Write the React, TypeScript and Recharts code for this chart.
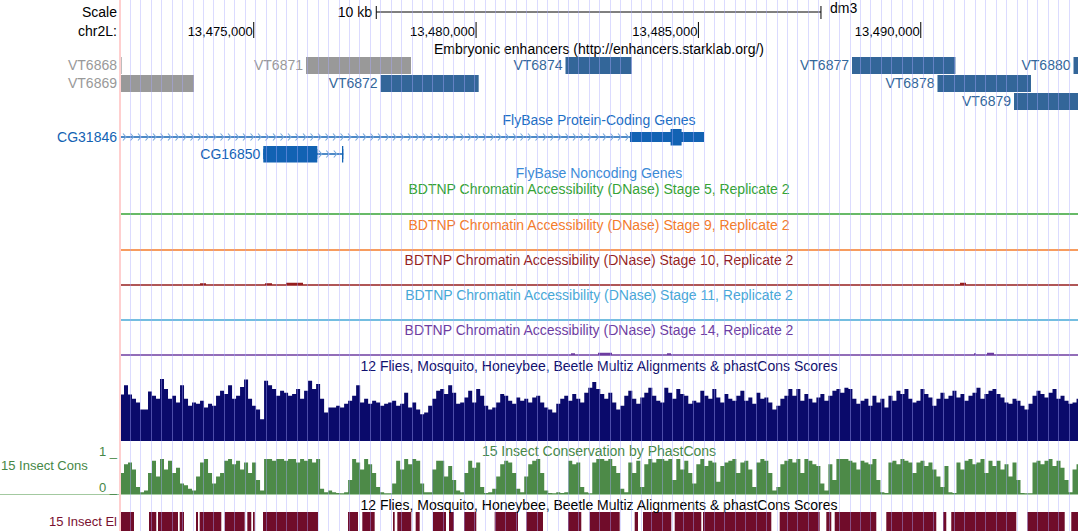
import React from "react";
import { ComposedChart, AreaChart, Area, XAxis, YAxis, ReferenceArea, ReferenceLine } from "recharts";

// visible window on chr2L (dm3)
const START = 13471993;
const END = 13493536;
const FONT = "'Liberation Sans', Arial, Helvetica, sans-serif";
const M = { top: 0, right: 0, bottom: 0, left: 120 };

// ruler
const RULER_TICKS = [13475000, 13480000, 13485000, 13490000];
const SCALE_BAR = [13477756, 13487756];
const GUIDE_BP = 234.55;

// Embryonic enhancers
const ENH_NAMES = ["VT6868", "VT6869", "VT6871", "VT6872", "VT6874", "VT6877", "VT6878", "VT6879", "VT6880"];
const ENH_START = [13470500, 13470900, 13476176, 13477855, 13482011, 13488454, 13490376, 13492097, 13493435];
const ENH_END = [13472030, 13473657, 13478537, 13480059, 13483500, 13490779, 13492479, 13494200, 13495000];
const ENH_ROW = [0, 1, 0, 1, 0, 0, 1, 2, 0];
const ENH_GREY = [true, true, true, false, false, false, false, false, false];

// FlyBase protein-coding genes
const GENE_NAMES = ["CG31846", "CG16850"];
const GENE_START = [13466800, 13475215];
const GENE_END = [13485126, 13477014];
const GENE_EXONS = [
  [[13483461, 13485126]],
  [[13475215, 13476430], [13476985, 13477014]],
];
const GENE_CDS = [[13484374, 13484622], [13475215, 13477014]];

// BDTNP DNase tracks (almost flat)
const DNASE_TITLES = [
  "BDTNP Chromatin Accessibility (DNase) Stage 5, Replicate 2",
  "BDTNP Chromatin Accessibility (DNase) Stage 9, Replicate 2",
  "BDTNP Chromatin Accessibility (DNase) Stage 10, Replicate 2",
  "BDTNP Chromatin Accessibility (DNase) Stage 11, Replicate 2",
  "BDTNP Chromatin Accessibility (DNase) Stage 14, Replicate 2",
];
const DNASE_COLORS = ["#35a335", "#f47b2a", "#961e1e", "#46a8d6", "#6e3ca0"];
const DNASE_BUMPS: number[][][] = [
  [],
  [],
  [[13473792, 13473927, 1], [13475254, 13475411, 1], [13475726, 13476108, 1.5], [13490882, 13491017, 1.5]],
  [],
  [[13482135, 13482225, 1], [13482742, 13483057, 1.5], [13484293, 13484383, 1], [13491197, 13491242, 1], [13491489, 13491647, 1.5]],
];

// Multiz / phastCons, 90 bp bins
const BIN_BP = 90;
const MULTIZ = [
  0.75, 0.9, 0.75, 0.68, 0.62, 0.51, 0.51, 0.8, 0.73, 0.68,
  1.0, 0.84, 0.68, 0.73, 0.62, 0.9, 0.68, 0.57, 0.62, 0.6,
  0.65, 0.54, 0.6, 0.57, 0.73, 0.81, 0.76, 0.9, 0.68, 0.73,
  0.87, 0.99, 0.68, 0.57, 0.51, 0.35, 0.97, 0.9, 0.84, 0.73,
  0.81, 0.78, 0.73, 0.76, 0.84, 0.68, 0.81, 0.97, 0.84, 0.92,
  0.68, 0.46, 0.54, 0.54, 0.57, 0.54, 0.6, 0.65, 0.73, 0.9,
  0.62, 0.68, 0.6, 0.65, 0.62, 0.57, 0.6, 0.62, 0.65, 0.57,
  0.6, 0.78, 0.54, 0.62, 0.51, 0.43, 0.46, 0.57, 0.68, 0.81,
  0.84, 0.76, 0.9, 0.78, 0.6, 0.62, 0.7, 0.81, 0.62, 0.84,
  0.73, 0.57, 0.51, 0.54, 0.62, 0.76, 0.73, 0.65, 0.6, 0.7,
  0.65, 0.68, 0.62, 0.7, 0.73, 0.62, 0.54, 0.51, 0.46, 0.6,
  0.68, 0.73, 0.65, 0.76, 0.68, 0.62, 0.78, 0.86, 0.95, 0.84,
  0.76, 0.68, 0.78, 0.62, 0.51, 0.57, 0.73, 0.81, 0.68, 0.6,
  0.7, 0.78, 0.86, 0.73, 0.65, 0.62, 0.86, 0.78, 0.68, 0.84,
  0.76, 0.73, 0.6, 0.65, 0.62, 0.81, 0.73, 0.68, 0.84, 0.7,
  0.62, 0.76, 0.68, 0.65, 0.73, 0.81, 0.65, 0.7, 0.6, 0.78,
  0.68, 0.7, 0.62, 0.51, 0.57, 0.68, 0.73, 0.84, 0.73, 0.84,
  0.65, 0.76, 0.68, 0.62, 0.7, 0.76, 0.65, 0.73, 0.81, 0.84,
  0.78, 0.86, 0.84, 0.68, 0.6, 0.65, 0.68, 0.57, 0.73, 0.62,
  0.68, 0.54, 0.73, 0.65, 0.81, 0.76, 0.84, 0.68, 0.62, 0.65,
  0.84, 0.76, 0.7, 0.57, 0.68, 0.78, 0.68, 0.73, 0.81, 0.7,
  0.76, 0.65, 0.73, 0.78, 0.86, 0.68, 0.76, 0.81, 0.84, 0.76,
  0.7, 0.62, 0.6, 0.68, 0.65, 0.57, 0.51, 0.6, 0.73, 0.81,
  0.76, 0.7, 0.78, 0.84, 0.68, 0.73, 0.65, 0.6, 0.62, 0.68,
];
const PHASTCONS = [
  0.6, 0.85, 0.9, 0.7, 0.2, 0.05, 0.1, 0.6, 0.95, 0.5,
  1, 0.7, 0.95, 0.6, 0.75, 0.3, 0.25, 0.15, 0.1, 0.5,
  0.9, 1, 0.6, 0.3, 0.5, 0.6, 0.95, 1, 0.85, 0.95,
  0.7, 0.9, 0.6, 0.9, 0.4, 0.1, 1, 1, 0.95, 1,
  1, 0.95, 1, 1, 0.9, 1, 0.95, 1, 0.9, 1,
  0.15, 0.05, 0.1, 0.05, 0.03, 0.02, 0.05, 0.4, 1, 0.9,
  0.7, 1, 0.85, 0.6, 0.2, 0.05, 0.02, 0.02, 0.3, 0.95,
  0.7, 1, 0.85, 1, 0.95, 0.3, 0.05, 0.05, 0.7, 0.95,
  0.95, 0.5, 0.8, 0.4, 0.1, 0.05, 0.6, 0.95, 0.75, 0.9,
  0.2, 0.03, 0.05, 0.15, 0.5, 0.85, 0.95, 0.9, 0.6, 0.15,
  0.05, 0.5, 0.85, 0.95, 1, 0.6, 0.1, 0.03, 0.02, 0.05,
  0.03, 0.05, 0.95, 0.85, 0.9, 0.2, 0.05, 0.02, 0.9, 1,
  1, 0.95, 1, 0.8, 0.6, 0.15, 0.05, 0.9, 0.6, 0.95,
  0.2, 0.85, 1, 0.9, 1, 1, 0.95, 1, 0.4, 1,
  0.7, 0.95, 0.6, 0.3, 0.85, 1, 0.8, 0.95, 0.9, 0.35,
  0.8, 0.9, 0.95, 1, 0.6, 0.9, 0.95, 0.7, 0.2, 0.9,
  1, 0.95, 0.6, 0.1, 0.2, 0.85, 0.95, 1, 0.9, 1,
  0.6, 1, 0.95, 0.85, 0.8, 0.3, 0.1, 0.85, 0.4, 1,
  1, 1, 0.95, 0.9, 0.7, 0.95, 0.9, 0.85, 1, 0.4,
  0.05, 0.03, 0.9, 0.95, 0.85, 1, 0.95, 0.9, 0.6, 0.9,
  0.95, 0.8, 0.9, 0.7, 0.5, 0.2, 0.8, 0.05, 0.03, 0.9,
  0.7, 0.95, 1, 0.85, 0.9, 1, 0.6, 0.95, 0.8, 0.95,
  0.7, 0.85, 0.5, 0.9, 0.4, 0.03, 0.02, 0.02, 0.9, 0.95,
  0.85, 0.95, 1, 0.8, 0.95, 0.75, 0.4, 0.05, 0.7, 0.85,
];

// 15 Insect conserved elements
const EL_START = [
  13471990, 13472645, 13472848, 13473335, 13473702, 13473785, 13474347, 13474856, 13474984, 13475209,
  13477120, 13477442, 13478132, 13478229, 13478642, 13479031, 13479391, 13479729, 13480419, 13481129,
  13482067, 13482555, 13483567, 13483754, 13484467, 13485103, 13486828, 13487876, 13488065, 13489225,
  13490500, 13490686, 13492396, 13493385,
];
const EL_END = [
  13472308, 13472809, 13473297, 13473432, 13473747, 13474271, 13474797, 13474945, 13475022, 13476445,
  13477345, 13477720, 13478170, 13478544, 13478732, 13479324, 13479504, 13480005, 13480943, 13481505,
  13482366, 13483230, 13483641, 13484390, 13485065, 13486639, 13487727, 13487988, 13489000, 13490349,
  13490574, 13492148, 13493237, 13493600,
];

const ENH_ROW_TOP = [57, 75, 93];
const GENE_ROW_Y = [137, 154];
const DNASE_BASE = [214, 250, 285, 320, 355];
const GENE_COLOR = "#1262b3";

const clampX = (v: number) => Math.min(Math.max(v, START), END);
const fmt = (v: number) => String(v).replace(/\B(?=(\d{3})+(?!\d))/g, ",");

const RulerTickShape = (props: any) => {
  const { x1, y1, y2, label } = props;
  return (
    <g>
      <line x1={x1} x2={x1} y1={y1} y2={y2} stroke="#000" strokeWidth={1} />
      <text x={x1 - 1} y={35.5} textAnchor="end" fontSize={13} fill="#000">
        {label}
      </text>
    </g>
  );
};

const IntronShape = (props: any) => {
  const { x, y, width, height } = props;
  const cy = y + height / 2;
  const marks = [];
  for (let cx = x + 6; cx < x + width - 2; cx += 7.5) {
    marks.push(
      <path key={cx} d={`M${cx - 3},${cy - 3.5}L${cx},${cy}L${cx - 3},${cy + 3.5}`} fill="none" stroke="#78a8de" strokeWidth={1.1} />
    );
  }
  return (
    <g>
      <line x1={x} x2={x + width} y1={cy} y2={cy} stroke={GENE_COLOR} strokeWidth={1.5} />
      {marks}
    </g>
  );
};

function TopTracks() {
  return (
    <ComposedChart width={1078} height={360} margin={M} data={RULER_TICKS.map((pos) => ({ pos }))}>
      <XAxis dataKey="pos" type="number" domain={[START, END]} allowDataOverflow hide />
      <YAxis type="number" domain={[0, 360]} reversed hide allowDataOverflow />

      {RULER_TICKS.map((t) => (
        <ReferenceLine
          key={t}
          segment={[{ x: t, y: 22 }, { x: t, y: 38 }]}
          stroke="#000"
          shape={(p: any) => <RulerTickShape {...p} label={fmt(t)} />}
        />
      ))}
      <ReferenceLine segment={[{ x: SCALE_BAR[0], y: 12 }, { x: SCALE_BAR[1], y: 12 }]} stroke="#000" />
      <ReferenceLine segment={[{ x: SCALE_BAR[0], y: 6 }, { x: SCALE_BAR[0], y: 19 }]} stroke="#000" />
      <ReferenceLine segment={[{ x: SCALE_BAR[1], y: 6 }, { x: SCALE_BAR[1], y: 19 }]} stroke="#000" />

      {ENH_NAMES.map((name, i) => {
        const c = ENH_GREY[i] ? "#999999" : "#336699";
        const top = ENH_ROW_TOP[ENH_ROW[i]];
        return (
          <ReferenceArea
            key={name}
            x1={clampX(ENH_START[i])}
            x2={clampX(ENH_END[i])}
            y1={top}
            y2={top + 17}
            fill={c}
            fillOpacity={1}
            stroke="none"
            label={{ value: name, position: "left", offset: 3, fill: c, fontSize: 14 }}
          />
        );
      })}

      {GENE_NAMES.map((name, g) => (
        <ReferenceArea
          key={name}
          x1={clampX(GENE_START[g])}
          x2={clampX(GENE_END[g])}
          y1={GENE_ROW_Y[g] - 1}
          y2={GENE_ROW_Y[g] + 1}
          shape={IntronShape}
          label={{ value: name, position: "left", offset: 3, fill: GENE_COLOR, fontSize: 14 }}
        />
      ))}
      {GENE_NAMES.map((name, g) =>
        GENE_EXONS[g].map(([s, e], k) => (
          <ReferenceArea
            key={`${name}-utr-${k}`}
            x1={s}
            x2={e}
            y1={GENE_ROW_Y[g] - 5}
            y2={GENE_ROW_Y[g] + 5}
            fill={GENE_COLOR}
            fillOpacity={1}
            stroke="none"
          />
        ))
      )}
      {GENE_NAMES.map((name, g) =>
        GENE_EXONS[g].map(([s, e], k) => {
          const cs = Math.max(s, GENE_CDS[g][0]);
          const ce = Math.min(e, GENE_CDS[g][1]);
          if (ce <= cs) return null;
          return (
            <ReferenceArea
              key={`${name}-cds-${k}`}
              x1={cs}
              x2={ce}
              y1={GENE_ROW_Y[g] - 8}
              y2={GENE_ROW_Y[g] + 8.5}
              fill={GENE_COLOR}
              fillOpacity={1}
              stroke="none"
            />
          );
        })
      )}

      {DNASE_BASE.map((y, t) => (
        <ReferenceLine key={`base-${t}`} y={y} stroke={DNASE_COLORS[t]} strokeWidth={1.5} />
      ))}
      {DNASE_BUMPS.map((bumps, t) =>
        bumps.map(([s, e, h], k) => (
          <ReferenceArea
            key={`bump-${t}-${k}`}
            x1={s}
            x2={e}
            y1={DNASE_BASE[t] - h - 0.75}
            y2={DNASE_BASE[t]}
            fill={DNASE_COLORS[t]}
            fillOpacity={1}
            stroke="none"
          />
        ))
      )}
    </ComposedChart>
  );
}

function SignalTrack({ values, height, color }: { values: number[]; height: number; color: string }) {
  const data = values.map((v, i) => ({ pos: START + i * BIN_BP, v }));
  data.push({ pos: START + values.length * BIN_BP, v: values[values.length - 1] });
  return (
    <AreaChart width={1078} height={height} margin={M} data={data}>
      <XAxis dataKey="pos" type="number" domain={[START, END]} allowDataOverflow hide />
      <YAxis type="number" domain={[0, 1]} allowDataOverflow hide />
      <Area type="stepAfter" dataKey="v" stroke="none" fill={color} fillOpacity={1} isAnimationActive={false} />
    </AreaChart>
  );
}

function ElementsTrack() {
  return (
    <ComposedChart width={1078} height={19} margin={M} data={EL_START.map((pos) => ({ pos }))}>
      <XAxis dataKey="pos" type="number" domain={[START, END]} allowDataOverflow hide />
      <YAxis type="number" domain={[0, 1]} allowDataOverflow hide />
      {EL_START.map((s, i) => (
        <ReferenceArea key={s} x1={clampX(s)} x2={clampX(EL_END[i])} y1={0} y2={1} fill="#700c2a" fillOpacity={1} stroke="none" />
      ))}
    </ComposedChart>
  );
}

function GuideLines() {
  const guides = Array.from({ length: 91 }, (_, k) => START + (k + 1) * GUIDE_BP);
  return (
    <ComposedChart width={1078} height={531} margin={M} data={guides.map((pos) => ({ pos }))}>
      <XAxis dataKey="pos" type="number" domain={[START, END]} allowDataOverflow hide />
      <YAxis type="number" domain={[0, 1]} allowDataOverflow hide />
      {guides.map((g) => (
        <ReferenceLine key={g} x={g} stroke="rgba(170,170,255,0.42)" strokeWidth={1} shapeRendering="crispEdges" />
      ))}
      <ReferenceLine x={START} stroke="#ffcfcf" strokeWidth={2} />
    </ComposedChart>
  );
}

function Labels() {
  const mid = 599;
  return (
    <svg width={1078} height={531} style={{ position: "absolute", left: 0, top: 0 }}>
      <g fontSize={14}>
        <text x={117} y={16.5} textAnchor="end" fill="#000">Scale</text>
        <text x={372} y={16.5} textAnchor="end" fill="#000">10 kb</text>
        <text x={830} y={12.5} fill="#000">dm3</text>
        <text x={117} y={35.5} textAnchor="end" fill="#000">chr2L:</text>
        <text x={mid} y={54} textAnchor="middle" fill="#000">Embryonic enhancers (http://enhancers.starklab.org/)</text>
        <text x={mid} y={125} textAnchor="middle" fill="#1c6fc4">FlyBase Protein-Coding Genes</text>
        <text x={mid} y={178} textAnchor="middle" fill="#3a8ad6">FlyBase Noncoding Genes</text>
        {DNASE_TITLES.map((t, i) => (
          <text key={t} x={mid} y={DNASE_BASE[i] - 20} textAnchor="middle" fill={DNASE_COLORS[i]}>{t}</text>
        ))}
        <text x={mid} y={371} textAnchor="middle" fill="#10106e">12 Flies, Mosquito, Honeybee, Beetle Multiz Alignments &amp; phastCons Scores</text>
        <text x={mid} y={456} textAnchor="middle" fill="#468746">15 Insect Conservation by PhastCons</text>
        <text x={mid} y={509.5} textAnchor="middle" fill="#000">12 Flies, Mosquito, Honeybee, Beetle Multiz Alignments &amp; phastCons Scores</text>
      </g>
      <g fontSize={13}>
        <text x={1} y={470} fill="#468746">15 Insect Cons</text>
        <text x={117} y={456} textAnchor="end" fill="#468746">1 _</text>
        <text x={117} y={492} textAnchor="end" fill="#468746">0 _</text>
        <text x={117} y={526} textAnchor="end" fill="#7a1030">15 Insect El</text>
      </g>
    </svg>
  );
}

export default function App() {
  return (
    <div style={{ position: "absolute", left: 0, top: 0, width: 1078, height: 531, background: "#fff", fontFamily: FONT, overflow: "hidden" }}>
      <div style={{ position: "absolute", left: 0, top: 0 }}>
        <TopTracks />
      </div>
      <div style={{ position: "absolute", left: 0, top: 379 }}>
        <SignalTrack values={MULTIZ} height={62} color="#0a0a6b" />
      </div>
      <div style={{ position: "absolute", left: 0, top: 459 }}>
        <SignalTrack values={PHASTCONS} height={35} color="#4d8a48" />
      </div>
      <div style={{ position: "absolute", left: 0, top: 494, width: 1078, height: 1, background: "#a3c9a0" }} />
      <div style={{ position: "absolute", left: 0, top: 512 }}>
        <ElementsTrack />
      </div>
      <Labels />
      <div style={{ position: "absolute", left: 0, top: 0, pointerEvents: "none" }}>
        <GuideLines />
      </div>
    </div>
  );
}
